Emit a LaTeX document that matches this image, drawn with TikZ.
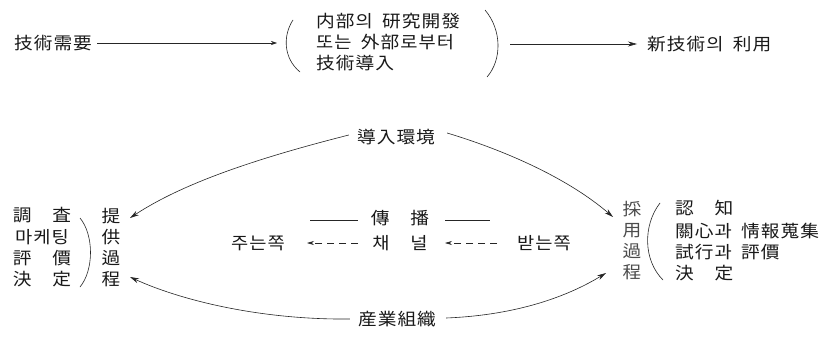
\documentclass[tikz,border=0pt]{standalone}
\usepackage{fontspec}
\newfontfamily\cjk[FakeStretch=1.1,LetterSpace=6]{Noto Sans CJK KR}
\usetikzlibrary{arrows.meta}
\newcommand{\wsp}{\hspace{0.55em}}
\tikzset{
  txt/.style={inner sep=0pt, font=\cjk\fontsize{17}{21}\selectfont, text=black!90},
  vtxt/.style={txt, align=center},
  conn/.style={draw=black!85, line width=0.6pt},
  arr/.style={conn, -{Stealth[length=9pt,width=5pt]}},
  smallarr/.style={conn, -{Stealth[length=6pt,width=4pt]}},
  dasharr/.style={conn, dash pattern=on 7pt off 5pt, -{Stealth[length=7pt,width=4pt]}},
  paren/.style={draw=black!85, line width=0.6pt},
}
\begin{document}
\begin{tikzpicture}[x=1pt,y=-1pt]
\useasboundingbox[fill=white] (0,0) rectangle (832,337);

% ---- top row ----
\node[txt] (need) at (53,43) {技術需要};
\node[vtxt, align=left, anchor=west] (intro) at (316,42) {内部의\wsp 研究開發\\또는\wsp 外部로부터\\技術導入};
\node[txt, anchor=west] (use) at (647,44) {新技術의\wsp 利用};
\draw[paren] (293,20) .. controls (283,35) and (283,58) .. (300,72);
\draw[paren] (485,10) .. controls (502,30) and (502,60) .. (487,77);
\coordinate (needE) at ([xshift=5pt]need.east);
\coordinate (introL) at (277,43);
\coordinate (introR) at (510,44);
\coordinate (useW) at ([xshift=-10pt]use.west);
\draw[smallarr] (needE) -- (introL);
\draw[arr] (introR) -- (useW);

% ---- bottom part ----
\node[txt] (env) at (396,137) {導入環境};
\node[txt] (ind) at (397,319) {産業組織};
\node[vtxt] (supply) at (111,248) {提\\供\\過\\程};
\node[vtxt, text=black!70] (adopt) at (632,241) {採\\用\\過\\程};

% left block
\node[txt] (l1) at (42,215) {調　査};
\node[txt] (l2) at (42,237) {마케팅};
\node[txt] (l3) at (42,258) {評　價};
\node[txt] (l4) at (42,279) {決　定};
\draw[paren] (80,218) .. controls (94,235) and (94,270) .. (80,287);

% right block
\node[txt, anchor=west] (r1) at (675,208) {認　知};
\node[txt, anchor=west] (r2) at (675,231) {關心과\wsp 情報蒐集};
\node[txt, anchor=west] (r3) at (675,252) {試行과\wsp 評價};
\node[txt, anchor=west] (r4) at (675,273) {決　定};
\draw[paren] (660,203) .. controls (643,225) and (643,260) .. (663,280);

% channel
\node[txt] (prop) at (400,218) {傳　播};
\node[txt] (chan) at (400,243) {채　널};
\node[txt] (give) at (258,243) {주는쪽};
\node[txt] (take) at (544,243) {받는쪽};
\draw[conn] (310,220) -- (358,220);
\draw[conn] (445,220) -- (490,220);
\coordinate (c1) at (358,243);
\coordinate (c1t) at (307,243);
\coordinate (c2) at (497,243);
\coordinate (c2t) at (445,243);
\draw[dasharr] (c1) -- (c1t);
\draw[dasharr] (c2) -- (c2t);

% curved connectors
\coordinate (sTop) at (130,218);
\coordinate (sBot) at (130,277);
\coordinate (aTop) at (613,217);
\coordinate (aBot) at (606,273);
\coordinate (envW) at ([shift={(-8pt,2pt)}]env.west);
\coordinate (envE) at ([shift={(12pt,4pt)}]env.east);
\coordinate (indW) at ([xshift=-8pt]ind.west);
\coordinate (indE) at ([shift={(10pt,1pt)}]ind.east);
\draw[arr] (envW) .. controls (250,160) and (180,185) .. (sTop);
\draw[arr] (envE) .. controls (510,152) and (570,180) .. (aTop);
\draw[arr] (indW) .. controls (260,320) and (180,300) .. (sBot);
\draw[arr] (indE) .. controls (520,315) and (570,295) .. (aBot);
\end{tikzpicture}
\end{document}
